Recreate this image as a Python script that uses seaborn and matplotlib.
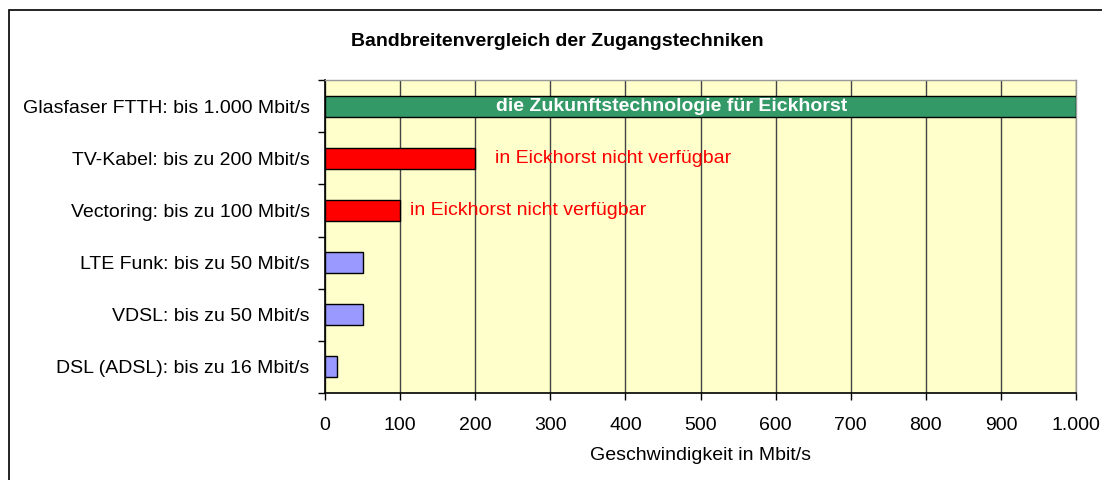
import matplotlib
matplotlib.use("Agg")
import matplotlib.pyplot as plt
import seaborn as sns
import pandas as pd
from matplotlib.patches import Rectangle
from matplotlib.ticker import FixedLocator, FuncFormatter

categories = [
    "Glasfaser FTTH: bis 1.000 Mbit/s",
    "TV-Kabel: bis zu 200 Mbit/s",
    "Vectoring: bis zu 100 Mbit/s",
    "LTE Funk: bis zu 50 Mbit/s",
    "VDSL: bis zu 50 Mbit/s",
    "DSL (ADSL): bis zu 16 Mbit/s",
]
speeds = [1000, 200, 100, 50, 50, 16]
bar_colors = ["#339966", "#FF0000", "#FF0000", "#9999FF", "#9999FF", "#9999FF"]
x_ticks = [0, 100, 200, 300, 400, 500, 600, 700, 800, 900, 1000]
title = "Bandbreitenvergleich der Zugangstechniken"
xlabel = "Geschwindigkeit in Mbit/s"
label_future = "die Zukunftstechnologie für Eickhorst"
label_na = "in Eickhorst nicht verfügbar"

sns.set_theme(style="white")
plt.rcParams["font.family"] = ["Liberation Sans", "DejaVu Sans"]
plt.rcParams["text.color"] = "black"
plt.rcParams["axes.labelcolor"] = "black"
plt.rcParams["xtick.color"] = "black"
plt.rcParams["ytick.color"] = "black"

df = pd.DataFrame({"Technik": categories, "Mbit": speeds})

fig = plt.figure(figsize=(11.02, 4.80), dpi=100)
fig.patch.set_facecolor("white")
ax = fig.add_axes([325 / 1102, 1 - 393 / 480, 751 / 1102, 313 / 480])
ax.set_facecolor("#FFFFCC")

sns.barplot(data=df, x="Mbit", y="Technik", hue="Technik", palette=bar_colors,
            width=0.4, edgecolor="black", linewidth=1.0, legend=False,
            saturation=1, ax=ax, zorder=3)

ax.set_xlim(0, 1000)
ax.set_ylim(5.5, -0.5)
ax.xaxis.set_major_locator(FixedLocator(x_ticks))
ax.xaxis.set_major_formatter(FuncFormatter(lambda v, p: f"{int(v):,}".replace(",", ".")))
ax.grid(axis="x", color="#444444", linewidth=1.0, zorder=0)
ax.grid(axis="y", visible=False)
ax.set_axisbelow(True)

ax.tick_params(axis="x", which="major", direction="out", length=5, width=1,
               color="black", labelsize=14, labelcolor="black", pad=12, bottom=True)
ax.tick_params(axis="y", which="major", length=0, labelsize=14,
               labelcolor="black", pad=17 - 6)
ax.set_yticks([i - 0.5 for i in range(len(categories) + 1)], minor=True)
ax.tick_params(axis="y", which="minor", direction="out", length=5, width=1,
               color="black", left=True)

for s in ["left", "bottom"]:
    ax.spines[s].set_color("black")
    ax.spines[s].set_linewidth(1.2)
for s in ["top", "right"]:
    ax.spines[s].set_color("#999999")
    ax.spines[s].set_linewidth(1.0)

ax.set_xlabel(xlabel, fontsize=14, labelpad=10, color="black")
ax.set_ylabel("")

ax.text(462, 0, label_future, color="white", fontweight="bold", fontsize=14,
        ha="center", va="center", zorder=5)
ax.text(speeds[1] + 26, 1, label_na, color="#FF0000", fontsize=14,
        ha="left", va="center", zorder=5)
ax.text(speeds[2] + 13, 2, label_na, color="#FF0000", fontsize=14,
        ha="left", va="center", zorder=5)

fig.text(557 / 1102, 1 - 41 / 480, title, ha="center", va="center",
         fontsize=14, fontweight="bold", color="black")

fig.patches.append(Rectangle((9 / 1102, -0.1), 1.2, 1 - 10 / 480 + 0.1,
                             transform=fig.transFigure, fill=False,
                             edgecolor="black", linewidth=1.2))

fig.savefig("out.png", dpi=100)
